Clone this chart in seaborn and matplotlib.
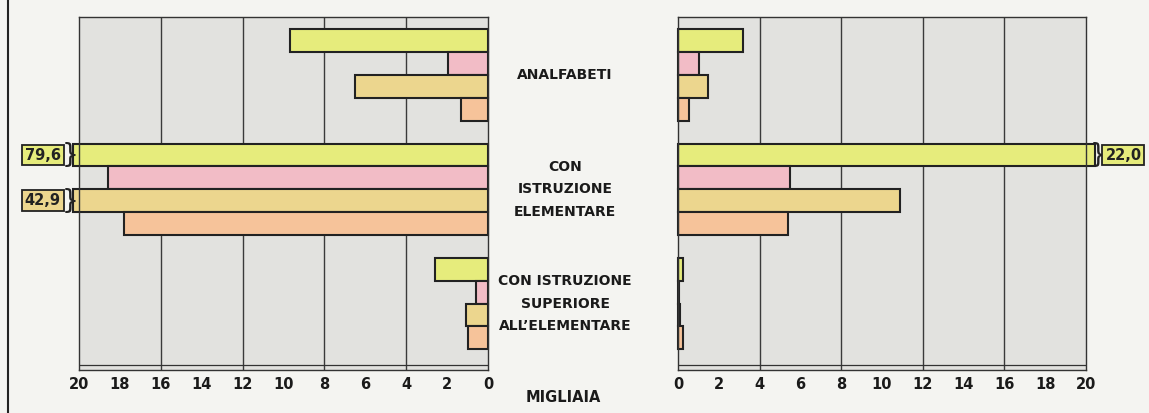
import numpy as np
import pandas as pd
import seaborn as sns
import matplotlib.pyplot as plt
from matplotlib.transforms import blended_transform_factory
from matplotlib.lines import Line2D

categorie = ['ANALFABETI', 'CON\nISTRUZIONE\nELEMENTARE',
             'CON ISTRUZIONE\nSUPERIORE\nALL\u2019ELEMENTARE']
serie = ['serie 1', 'serie 2', 'serie 3', 'serie 4']
colori = ['#e6ec7c', '#f2bcc6', '#ecd68e', '#f6c39a']

# migliaia - pannello sinistro
sx_1 = [9.7, 79.6, 2.6]
sx_2 = [1.95, 18.6, 0.6]
sx_3 = [6.5, 42.9, 1.1]
sx_4 = [1.3, 17.8, 1.0]
# migliaia - pannello destro
dx_1 = [3.2, 22.0, 0.25]
dx_2 = [1.05, 5.5, 0.05]
dx_3 = [1.45, 10.9, 0.08]
dx_4 = [0.55, 5.4, 0.25]

tick_vals = [0, 2, 4, 6, 8, 10, 12, 14, 16, 18, 20]
griglia = [4, 8, 12, 16]


def make_df(cols):
    return pd.DataFrame({
        'categoria': categorie * 4,
        'serie': np.repeat(serie, 3),
        'valore': np.concatenate(cols),
    })


df_sx = make_df([sx_1, sx_2, sx_3, sx_4])
df_dx = make_df([dx_1, dx_2, dx_3, dx_4])

sns.set_style('white')
plt.rcParams['font.family'] = ['DejaVu Sans']

bg = '#f4f4f1'
panel = '#e2e2df'
fig = plt.figure(figsize=(11.49, 4.13), dpi=100, facecolor=bg)
ax_l = fig.add_axes([79 / 1149, 1 - 370 / 413, 409 / 1149, 353 / 413])
ax_r = fig.add_axes([678 / 1149, 1 - 370 / 413, 408 / 1149, 353 / 413])


def draw(ax, df, cap, gap, ha):
    df = df.copy()
    df['mostrato'] = df['valore'].clip(upper=cap)
    ax.set_facecolor(panel)
    for g in griglia:
        ax.axvline(g, color='#3a3a3a', lw=1.0, zorder=0.5)
    sns.barplot(data=df, y='categoria', x='mostrato', hue='serie',
                palette=colori, saturation=1, orient='h', width=0.8,
                edgecolor='#222222', linewidth=1.5, legend=False, ax=ax,
                zorder=2)
    ax.set_xlim(0, 20)
    ax.set_ylim(2.582, -0.508)
    ax.axhline(2.538, color='#333333', lw=0.9, zorder=3)
    ax.set_xticks(tick_vals)
    ax.set_xticklabels([str(t) for t in tick_vals], fontsize=10.5,
                       fontweight='bold', color='#1a1a1a')
    ax.tick_params(axis='x', direction='in', length=5, width=0.9,
                   color='#333333', pad=5)
    ax.set_yticks([])
    ax.set_xlabel('')
    ax.set_ylabel('')
    for s in ax.spines.values():
        s.set_color('#333333')
        s.set_linewidth(1.0)
    # barre interrotte
    for k, cont in enumerate(ax.containers):
        vals = df[df['serie'] == serie[k]]['valore'].values
        for bar, v in zip(cont, vals):
            bar.set_clip_on(False)
            if v > cap:
                yc = bar.get_y() + bar.get_height() / 2
                ax.text(cap + 0.12, yc, '}', ha='center', va='center',
                        fontsize=19, color='#222222', clip_on=False, zorder=5)
                ax.text(cap + gap, yc, f'{v:.1f}'.replace('.', ','),
                        ha=ha, va='center', fontsize=10.5, fontweight='bold',
                        color='#222222', clip_on=False, zorder=5,
                        bbox=dict(boxstyle='square,pad=0.2',
                                  fc=colori[k], ec='#222222', lw=1.3))


draw(ax_l, df_sx, 20.3, 0.6, 'right')
ax_l.invert_xaxis()
draw(ax_r, df_dx, 20.45, 0.5, 'left')

# etichette delle categorie al centro
trans = blended_transform_factory(fig.transFigure, ax_l.transData)
for i, c in enumerate(categorie):
    fig.text(565 / 1149, i, c, transform=trans, ha='center', va='center',
             fontsize=10, fontweight='bold', color='#1a1a1a',
             linespacing=1.75)

fig.text(563 / 1149, 1 - 398 / 413, 'MIGLIAIA', ha='center', va='center',
         fontsize=10.5, fontweight='bold', color='#1a1a1a')

fig.add_artist(Line2D([8 / 1149, 8 / 1149], [0, 1], color='#222222', lw=1.5))

fig.savefig('out.png', dpi=100, facecolor=bg)
